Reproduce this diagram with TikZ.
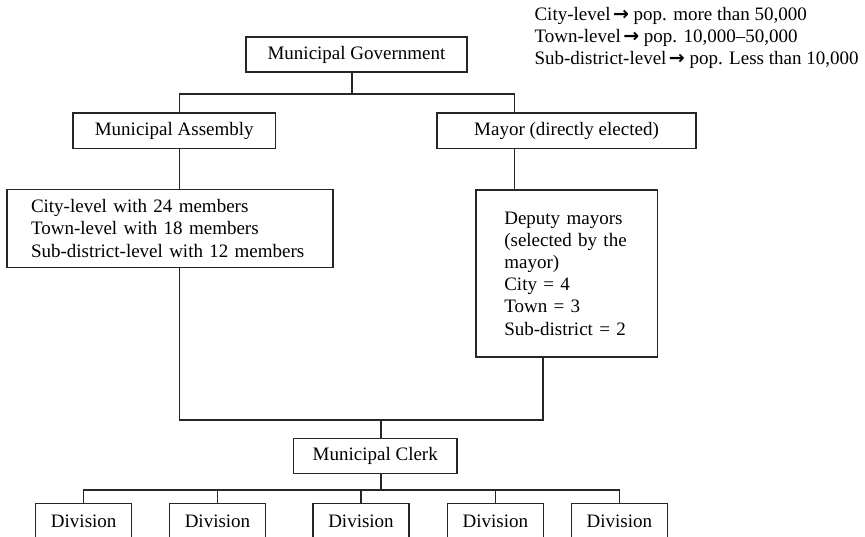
\documentclass[tikz,border=0pt]{standalone}
\usepackage{fontspec}
\setmainfont{Liberation Serif}
\newfontfamily\dejavu{DejaVu Sans}
\newcommand\arr{{\dejavu\bfseries →}}
\begin{document}
\begin{tikzpicture}[x=1pt,y=-1pt,
  line width=1.1pt,
  conn/.style={draw=black!85, line width=1.1pt},
  box/.style={draw=black!85, line width=1.1pt, inner sep=0pt, align=center,
    font=\fontsize{19}{22.2}\selectfont},
  listbox/.style={box, align=left, inner ysep=0pt},
  divbox/.style={box, minimum width=96pt, minimum height=35pt},
  legend/.style={inner sep=0pt, align=left,
    font=\fontsize{19}{22.2}\selectfont}]
\useasboundingbox (0,0) rectangle (865,537);
\clip (0,0) rectangle (865,537);

% legend
\node[legend, anchor=north west] (leg) at (534,6.5)
  {City-level\kern2.5pt\arr{} pop. more than 50,000\\
   Town-level\kern2.5pt\arr{} pop. 10,000--50,000\\
   Sub-district-level\kern2.5pt\arr{} pop. Less than 10,000};

% boxes
\node[box, minimum width=221pt, minimum height=35pt] (gov) at (356.5,54.5) {Municipal Government};
\node[box, minimum width=202.5pt, minimum height=35.5pt] (asm) at (174.25,130.75) {Municipal Assembly};
\node[box, minimum width=259pt, minimum height=35.5pt] (mayor) at (566.5,130.75) {Mayor (directly elected)};
\node[listbox, minimum width=326pt, minimum height=78pt, text width=278pt, inner xsep=24pt] (city) at (170,228.5)
  {City-level with 24 members\\Town-level with 18 members\\Sub-district-level with 12 members};
\node[listbox, minimum width=181.5pt, minimum height=167pt, text width=124.9pt, inner xsep=28.3pt] (dep) at (566.75,273.5)
  {Deputy mayors\\(selected by the\\mayor)\\City = 4\\Town = 3\\Sub-district = 2};
\node[box, minimum width=163.5pt, minimum height=35pt] (clerk) at (375.25,456) {Municipal Clerk};
\node[divbox] (d1) at (83.7,521) {Division};
\node[divbox] (d2) at (217.5,521) {Division};
\node[divbox] (d3) at (361,521) {Division};
\node[divbox] (d4) at (495.3,521) {Division};
\node[divbox] (d5) at (619.3,521) {Division};

% junctions
\coordinate (jTop) at (352,94);
\coordinate (jL) at (179.5,94);
\coordinate (jR) at (514.5,94);
\coordinate (jBL) at (179.5,420);
\coordinate (jBR) at (543,420);
\coordinate (jC) at (381,420);
\coordinate (jD) at (381,490);

% connectors
\draw[conn] (gov.south -| jTop) -- (jTop);
\draw[conn] (asm.north -| jL) -- (jL) -- (jR) -- (mayor.north -| jR);
\draw[conn] (asm.south -| jL) -- (city.north -| jL);
\draw[conn] (mayor.south -| jR) -- (dep.north -| jR);
\draw[conn] (city.south -| jBL) -- (jBL) -- (jBR) -- (dep.south -| jBR);
\draw[conn] (jC) -- (clerk.north -| jC);
\draw[conn] (clerk.south -| jD) -- (jD);
\draw[conn] (d1.north) -- (d1.north |- jD) -- (d5.north |- jD) -- (d5.north);
\draw[conn] (d2.north) -- (d2.north |- jD);
\draw[conn] (d3.north) -- (d3.north |- jD);
\draw[conn] (d4.north) -- (d4.north |- jD);
\end{tikzpicture}
\end{document}
